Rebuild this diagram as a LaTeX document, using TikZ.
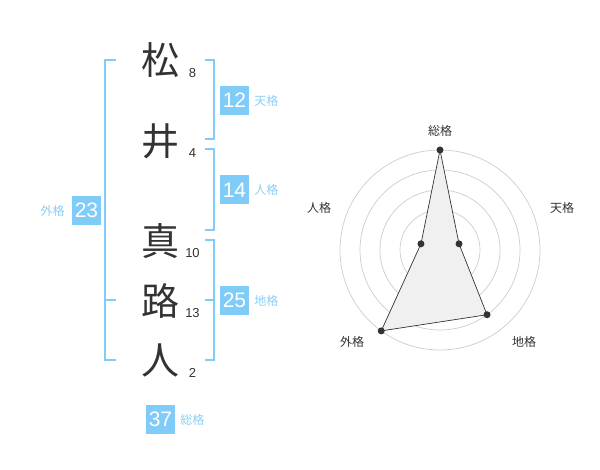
\documentclass[tikz,border=0pt]{standalone}
\usepackage{fontspec}
\setmainfont{Liberation Sans}
\newfontfamily\jpfont{Noto Sans CJK JP}
\usetikzlibrary{positioning}
\definecolor{kakublue}{HTML}{80CCF8}
\definecolor{kakutext}{HTML}{8ACFF5}
\definecolor{inkgray}{HTML}{333333}
\tikzset{
  kanji/.style={font=\jpfont\fontsize{38}{38}\selectfont, text=inkgray, inner sep=0pt},
  strokes/.style={font=\fontsize{13}{13}\selectfont, text=inkgray, inner sep=0pt},
  kakubox/.style={fill=kakublue, text=white, font=\fontsize{21}{21}\selectfont, minimum width=29pt, minimum height=29pt, inner sep=0pt},
  kakuname/.style={font=\jpfont\fontsize{12}{12}\selectfont, text=kakutext, inner sep=0pt},
  bracket/.style={draw=kakublue, line width=2pt},
  axisname/.style={font=\jpfont\fontsize{12}{12}\selectfont, text=inkgray, inner sep=0pt},
  ring/.style={draw=black!20, line width=0.7pt},
  dot/.style={circle, fill=inkgray, inner sep=0pt, minimum size=7pt},
}

\begin{document}
\begin{tikzpicture}[x=1pt,y=-1pt]
    \useasboundingbox (0,0) rectangle (600,470);
    % name and stroke counts
    \node[kanji] (k1) at (160,60) {松};
    \node[kanji] (k2) at (160,141.5) {井};
    \node[kanji] (k3) at (160,241) {真};
    \node[kanji] (k4) at (160,301.5) {路};
    \node[kanji] (k5) at (160,360) {人};
    \node[strokes] (n1) at (192.5,73) {8};
    \node[strokes] (n2) at (192.5,153) {4};
    \node[strokes] (n3) at (192.5,253) {10};
    \node[strokes] (n4) at (192.5,313) {13};
    \node[strokes] (n5) at (192.5,373) {2};

    % brackets
    \draw[bracket] (116,60) -- (105,60) -- (105,360) -- (116,360);
    \draw[bracket] (105,300) -- (116,300);
    \draw[bracket] (205,60) -- (214,60) -- (214,139) -- (205,139);
    \draw[bracket] (205,149) -- (214,149) -- (214,230) -- (205,230);
    \draw[bracket] (205,240) -- (214,240) -- (214,360) -- (205,360);
    \draw[bracket] (214,300) -- (205,300);

    % kaku values
    \node[kakubox] (ten) at (234.5,100.5) {12};
    \node[kakuname, right=5pt of ten] (tenname) {天格};
    \node[kakubox] (jin) at (234.5,190) {14};
    \node[kakuname, right=5pt of jin] (jinname) {人格};
    \node[kakubox] (chi) at (234.5,300.5) {25};
    \node[kakuname, right=5pt of chi] (chiname) {地格};
    \node[kakubox] (gai) at (86.5,210.5) {23};
    \node[kakuname, left=7pt of gai] (gainame) {外格};
    \node[kakubox] (sou) at (160.5,419.5) {37};
    \node[kakuname, right=5pt of sou] (souname) {総格};

    % radar chart
    \coordinate (c) at (440,250);
    \foreach \r in {20,40,60,80,100}
        \draw[ring] (c) circle (\r pt);
    \fill[black!20] (c) circle (3pt);
    \path (c) ++(90:100pt) coordinate (p1)
          (c) ++(18:20pt) coordinate (p2)
          (c) ++(-54:80pt) coordinate (p3)
          (c) ++(-126:100pt) coordinate (p4)
          (c) ++(162:20pt) coordinate (p5);
    \draw[inkgray, fill=black!6, line width=0.7pt] (p1) -- (p2) -- (p3) -- (p4) -- (p5) -- cycle;
    \foreach \p in {p1,p2,p3,p4,p5}
        \node[dot] at (\p) {};
    \node[axisname] (a1) at (440,131) {総格};
    \node[axisname] (a2) at (562,208) {天格};
    \node[axisname] (a3) at (524,342) {地格};
    \node[axisname] (a4) at (352,342) {外格};
    \node[axisname] (a5) at (319,208) {人格};
\end{tikzpicture}
\end{document}
